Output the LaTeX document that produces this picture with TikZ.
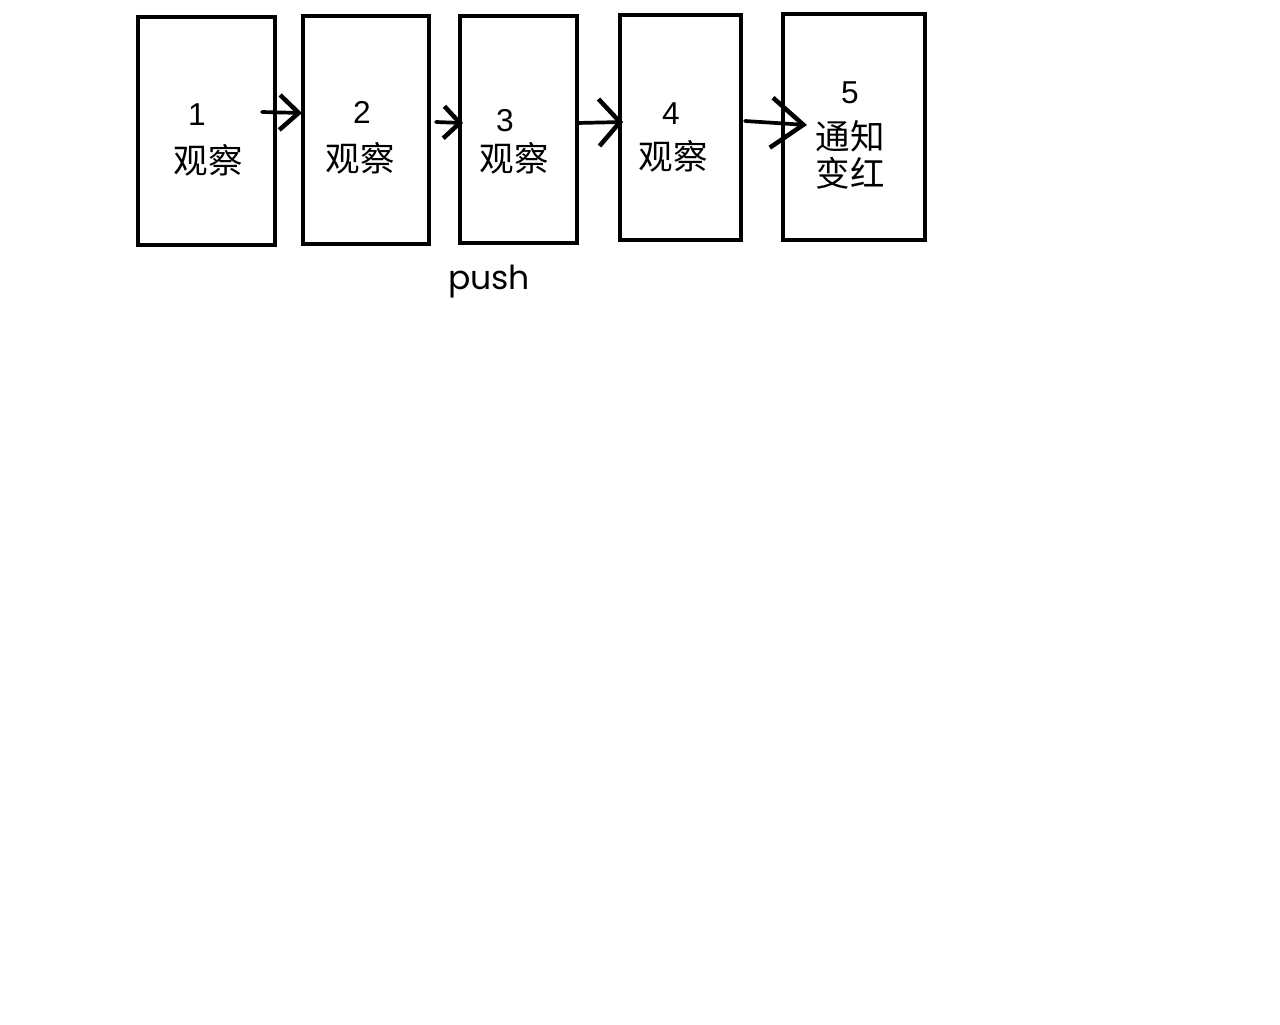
\documentclass[tikz,border=0pt]{standalone}
\usepackage{fontspec}
\setmainfont{Noto Sans CJK SC}
\newfontfamily\pushfont{Poppins}
\newfontfamily\numfont{Liberation Sans}
\usetikzlibrary{arrows.meta}
\begin{document}
\begin{tikzpicture}[x=0.01cm,y=-0.01cm,
  box/.style={draw,line width=0.037cm,rectangle,inner sep=0pt},
  num/.style={font=\numfont\fontsize{9pt}{10pt}\selectfont,inner sep=0pt},
  cjk/.style={font=\fontsize{9.8pt}{10.3pt}\selectfont,inner sep=0pt,align=center},
  arr/.style={line width=0.037cm,line cap=round}]
\useasboundingbox[fill=white] (0,0) rectangle (1280,1024);
\node[box,minimum width=1.37cm,minimum height=2.28cm] (b1) at (206.5,131) {};
\node[box,minimum width=1.26cm,minimum height=2.28cm] (b2) at (366,130) {};
\node[box,minimum width=1.17cm,minimum height=2.27cm] (b3) at (518.5,129.5) {};
\node[box,minimum width=1.21cm,minimum height=2.25cm] (b4) at (680.5,127.5) {};
\node[box,minimum width=1.42cm,minimum height=2.26cm] (b5) at (854,127) {};
\node[num] (n1) at (197,115) {1};
\node[cjk] (t1) at (208,160) {观察};
\node[num] (n2) at (362,112) {2};
\node[cjk] (t2) at (360,158) {观察};
\node[num] (n3) at (505,121) {3};
\node[cjk] (t3) at (514,158) {观察};
\node[num] (n4) at (671,114) {4};
\node[cjk] (t4) at (673,156) {观察};
\node[num] (n5) at (850,93) {5};
\node[cjk] (t5) at (850,155) {通知\\变红};
\node[font=\pushfont\fontsize{9.4pt}{11pt}\selectfont,inner sep=0pt] (push) at (489,282) {push};
\coordinate (s1) at (262,112);
\coordinate (e1) at (302,113);
\coordinate (s2) at (436,122);
\coordinate (e2) at (463,123);
\coordinate (s3) at (577,123);
\coordinate (e3) at (623,122);
\coordinate (s4) at (745,121);
\coordinate (e4) at (807,125);
\draw[arr,-{Straight Barb[length=0.19cm,width=0.35cm,line width=0.045cm]}] (s1) -- (e1);
\draw[arr,-{Straight Barb[length=0.16cm,width=0.32cm,line width=0.045cm]}] (s2) -- (e2);
\draw[arr,-{Straight Barb[length=0.21cm,width=0.47cm,line width=0.045cm]}] (s3) -- (e3);
\draw[arr,-{Straight Barb[length=0.32cm,width=0.5cm,line width=0.045cm]}] (s4) -- (e4);
\end{tikzpicture}
\end{document}
